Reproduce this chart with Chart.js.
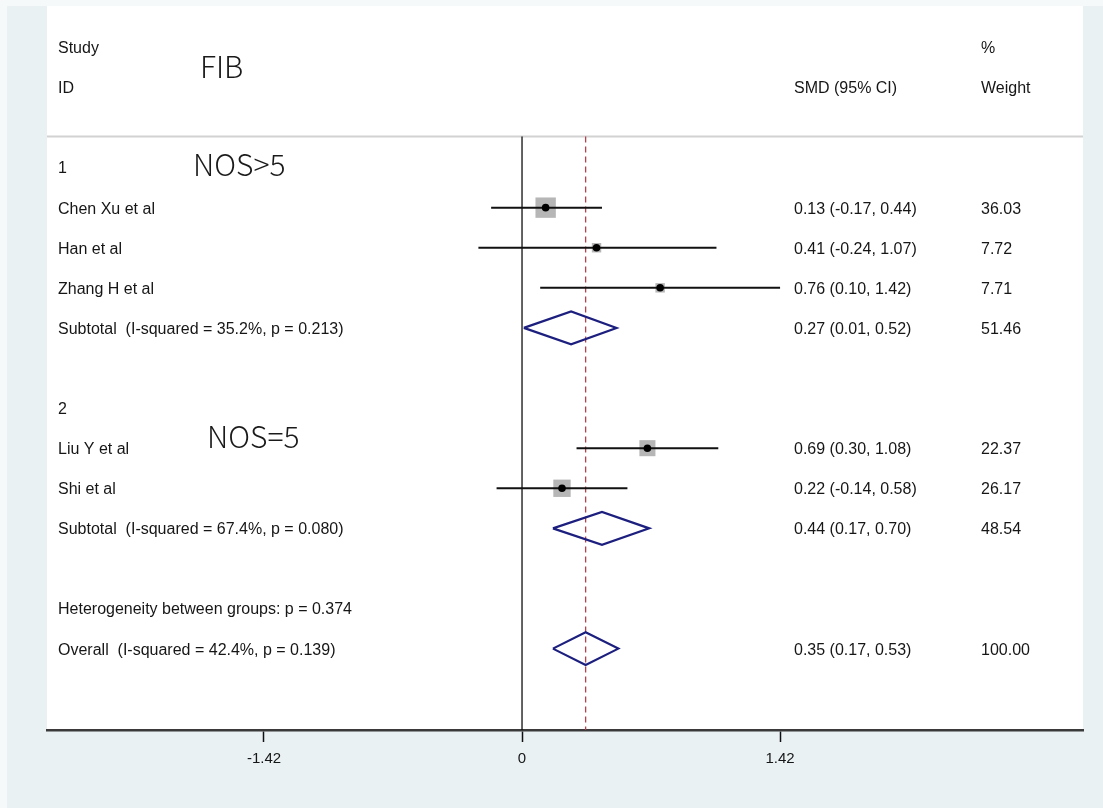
<!DOCTYPE html>
<html>
<head>
<meta charset="utf-8">
<script src="https://cdn.jsdelivr.net/npm/chart.js@4.4.1/dist/chart.umd.min.js"></script>
<style>
html, body { margin: 0; padding: 0; background: #e9f1f3; }
#drawChart { display: block; }
</style>
</head>
<body>
<canvas id="drawChart" width="1103" height="808"></canvas>
<script>
// study rows
var studyLabels = ['Chen Xu et al', 'Han et al', 'Zhang H et al', 'Liu Y et al', 'Shi et al'];
var studyRows = [1, 2, 3, 7, 8];
var studySmd = [0.13, 0.41, 0.76, 0.69, 0.22];
var studyLow = [-0.17, -0.24, 0.10, 0.30, -0.14];
var studyHigh = [0.44, 1.07, 1.42, 1.08, 0.58];
var studyWeight = [36.03, 7.72, 7.71, 22.37, 26.17];

// pooled rows (two subtotals + overall)
var poolLabels = ['Subtotal  (I-squared = 35.2%, p = 0.213)', 'Subtotal  (I-squared = 67.4%, p = 0.080)', 'Overall  (I-squared = 42.4%, p = 0.139)'];
var poolRows = [4, 9, 12];
var poolSmd = [0.27, 0.44, 0.35];
var poolLow = [0.01, 0.17, 0.17];
var poolHigh = [0.52, 0.70, 0.53];
var poolWeight = [51.46, 48.54, 100.00];

var groupLabels = ['1', '2'];
var groupRows = [0, 6];
var groupNotes = ['NOS>5', 'NOS=5'];
var hetLabel = 'Heterogeneity between groups: p = 0.374';
var hetRow = 11;

var xTicks = [-1.42, 0, 1.42];
var xMin = -2.614, xMax = 3.087;
var yMin = -4.03, yMax = 14.03;
var headTop = -0.775;

var textFont = '16px "Liberation Sans", Arial, sans-serif';
var bigFont = '300 30px "Noto Sans CJK SC", "Noto Sans", sans-serif';

function fmt(v) { return v.toFixed(2); }

var datasets = [];

// confidence intervals
studyLabels.forEach(function (s, i) {
	datasets.push({
		label: s,
		data: [{x: studyLow[i], y: studyRows[i]}, {x: studyHigh[i], y: studyRows[i]}],
		showLine: true, borderColor: '#111', borderWidth: 2, pointRadius: 0, order: 3
	});
});

// weight boxes
datasets.push({
	label: 'weights',
	data: studySmd.map(function (v, i) { return {x: v, y: studyRows[i]}; }),
	pointStyle: 'rect',
	pointRadius: function (ctx) { return 2.4 * Math.sqrt(studyWeight[ctx.dataIndex]); },
	backgroundColor: '#b6b6b6', borderWidth: 0, order: 4
});

// point estimates
datasets.push({
	label: 'estimates',
	data: studySmd.map(function (v, i) { return {x: v, y: studyRows[i]}; }),
	pointStyle: 'circle', pointRadius: 3.8,
	backgroundColor: '#000', borderWidth: 0, order: 1
});

// diamonds
poolLabels.forEach(function (s, i) {
	var r = poolRows[i];
	datasets.push({
		label: s,
		data: [
			{x: poolLow[i], y: r}, {x: poolSmd[i], y: r - 0.41},
			{x: poolHigh[i], y: r}, {x: poolSmd[i], y: r + 0.41},
			{x: poolLow[i], y: r}
		],
		showLine: true, borderColor: '#1c1f7e', borderWidth: 2.2, pointRadius: 0,
		fill: false, tension: 0, order: 2
	});
});

// null line and overall line
datasets.push({
	label: 'null',
	data: [{x: 0, y: headTop}, {x: 0, y: yMax}],
	showLine: true, borderColor: '#111', borderWidth: 1.3, pointRadius: 0, order: 5
});
datasets.push({
	label: 'overall',
	data: [{x: poolSmd[2], y: headTop}, {x: poolSmd[2], y: yMax}],
	showLine: true, borderColor: '#b5404e', borderWidth: 1.3, borderDash: [6, 4], pointRadius: 0, order: 5
});

var forestText = {
	id: 'forestText',
	beforeDraw: function (chart) {
		var c = chart.ctx, a = chart.chartArea;
		c.save();
		c.fillStyle = '#f6f9fa';
		c.fillRect(0, 0, chart.width, chart.height);
		c.fillStyle = '#e9f1f3';
		c.fillRect(7, 6, chart.width - 7, chart.height - 6);
		c.fillStyle = '#ffffff';
		c.fillRect(a.left, a.top, a.right - a.left, a.bottom - a.top);
		c.restore();
	},
	beforeDatasetsDraw: function (chart) {
		var c = chart.ctx, a = chart.chartArea, ys = chart.scales.y;
		var y = ys.getPixelForValue(headTop);
		c.save();
		c.strokeStyle = '#d2d2d2';
		c.lineWidth = 2;
		c.beginPath();
		c.moveTo(a.left, y);
		c.lineTo(a.right, y);
		c.stroke();
		c.restore();
	},
	afterDatasetsDraw: function (chart) {
		var c = chart.ctx, a = chart.chartArea, ys = chart.scales.y;
		var lx = a.left + 11, ex = a.right - 289, wx = a.right - 102;
		function put(t, x, row, font) {
			c.font = font || textFont;
			c.fillText(t, x, ys.getPixelForValue(row) + 1.5);
		}
		c.save();
		c.fillStyle = '#161616';
		c.textBaseline = 'middle';
		c.textAlign = 'left';
		put('Study', lx, -3);
		put('ID', lx, -2);
		put('SMD (95% CI)', ex, -2);
		put('%', wx, -3);
		put('Weight', wx, -2);
		groupLabels.forEach(function (g, i) { put(g, lx, groupRows[i]); });
		studyLabels.forEach(function (s, i) {
			put(s, lx, studyRows[i]);
			put(fmt(studySmd[i]) + ' (' + fmt(studyLow[i]) + ', ' + fmt(studyHigh[i]) + ')', ex, studyRows[i]);
			put(fmt(studyWeight[i]), wx, studyRows[i]);
		});
		poolLabels.forEach(function (s, i) {
			put(s, lx, poolRows[i]);
			put(fmt(poolSmd[i]) + ' (' + fmt(poolLow[i]) + ', ' + fmt(poolHigh[i]) + ')', ex, poolRows[i]);
			put(fmt(poolWeight[i]), wx, poolRows[i]);
		});
		put(hetLabel, lx, hetRow);
		// big notes
		c.fillStyle = '#1a1a1a';
		put('FIB', a.left + 153, -2.55, bigFont);
		put(groupNotes[0], a.left + 146, -0.12, bigFont);
		put(groupNotes[1], a.left + 160, 6.68, bigFont);
		c.restore();
	}
};

var ctx = document.getElementById('drawChart').getContext('2d');
var drawChart = new Chart(ctx, {
	type: 'scatter',
	data: { datasets: datasets },
	options: {
		responsive: false,
		animation: false,
		devicePixelRatio: 1,
		layout: { autoPadding: false, padding: { left: 47, right: 20, top: 6, bottom: 0 } },
		plugins: { legend: { display: false }, tooltip: { enabled: false } },
		scales: {
			x: {
				type: 'linear', min: xMin, max: xMax,
				afterBuildTicks: function (s) { s.ticks = xTicks.map(function (v) { return {value: v}; }); },
				afterFit: function (s) { s.height = 78; },
				ticks: {
					autoSkip: false, maxRotation: 0, padding: 8, color: '#161616',
					font: { family: '"Liberation Sans", Arial, sans-serif', size: 15 },
					callback: function (v) { return String(v); }
				},
				grid: { drawOnChartArea: false, drawTicks: true, tickLength: 12, tickWidth: 1.5, tickColor: '#111' },
				border: { display: true, color: '#3a3a3a', width: 2.5 }
			},
			y: { type: 'linear', reverse: true, min: yMin, max: yMax, display: false }
		}
	},
	plugins: [forestText]
});
</script>
</body>
</html>
